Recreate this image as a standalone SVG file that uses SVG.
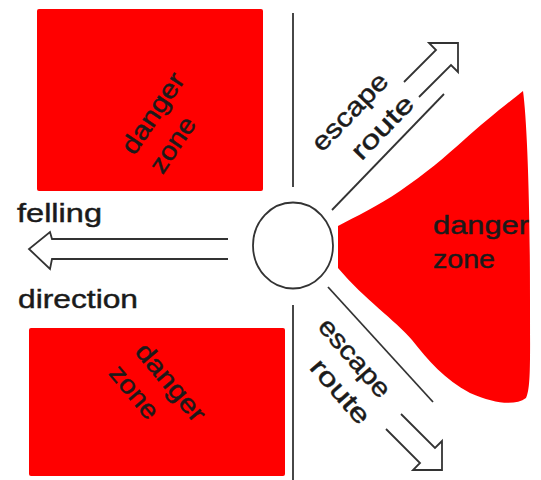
<svg xmlns="http://www.w3.org/2000/svg" width="541" height="480" viewBox="0 0 541 480">
  <style>
    .zone { fill: #ff0000; }
    .ln { fill: none; stroke: #333333; stroke-width: 1.8; stroke-linejoin: miter; stroke-linecap: butt; }
    .lbl { font-family: "Liberation Sans", Arial, sans-serif; font-size: 26px; fill: #1a1a1a; stroke: #1a1a1a; stroke-width: 0.45; }
  </style>
  <rect width="541" height="480" fill="#ffffff"/>

  <g id="danger-zone-top-left">
    <rect class="zone" x="37" y="9" width="226" height="182" rx="2"/>
    <g transform="translate(160,118) rotate(-56)">
      <text class="lbl" x="-46" y="0" textLength="92" lengthAdjust="spacingAndGlyphs">danger</text>
      <text class="lbl" x="-46" y="34" textLength="62" lengthAdjust="spacingAndGlyphs">zone</text>
    </g>
  </g>

  <g id="danger-zone-bottom-left">
    <rect class="zone" x="29" y="328" width="256" height="148" rx="2"/>
    <g transform="translate(164,388) rotate(50)">
      <text class="lbl" x="-47" y="0" textLength="94" lengthAdjust="spacingAndGlyphs">danger</text>
      <text class="lbl" x="-47" y="34" textLength="62" lengthAdjust="spacingAndGlyphs">zone</text>
    </g>
  </g>

  <g id="danger-zone-right">
    <path class="zone" d="M338,226 C355,217 378,206 400,191 C425,174 445,157 465,139 C485,121 508,103 523,91 C527,120 530,200 530,300 C530,360 531,388 526,398 C515,406 495,404 470,393 C445,380 428,360 412,340 C395,320 365,300 338,268 Z"/>
    <text class="lbl" x="433" y="234" textLength="96" lengthAdjust="spacingAndGlyphs">danger</text>
    <text class="lbl" x="433" y="268" textLength="62" lengthAdjust="spacingAndGlyphs">zone</text>
  </g>

  <g id="tree">
    <ellipse cx="293" cy="245.5" rx="40" ry="43" fill="#ffffff" stroke="#333333" stroke-width="1.8"/>
  </g>

  <g id="connectors">
    <line class="ln" x1="293" y1="13" x2="293" y2="187"/>
    <line class="ln" x1="293" y1="305" x2="293" y2="480"/>
    <line class="ln" x1="332" y1="210" x2="444" y2="94"/>
    <line class="ln" x1="328" y1="287" x2="433" y2="402"/>
    <polyline id="felling-arrow" class="ln" points="228,239 52,239 50,232 29,249 50,269 52,259 228,259"/>
    <polyline id="escape-arrow-top" class="ln" points="404,82 436,50 429,43 458,43 458,72 451,65 419,97"/>
    <polyline id="escape-arrow-bottom" class="ln" points="401,414 435,448 442,441 442,470 413,470 420,463 386,429"/>
  </g>

  <g id="felling-direction-label">
    <text class="lbl" x="17" y="222" textLength="85" lengthAdjust="spacingAndGlyphs">felling</text>
    <text class="lbl" x="18" y="308" textLength="120" lengthAdjust="spacingAndGlyphs">direction</text>
  </g>

  <g id="escape-route-top">
    <g transform="translate(351,113) rotate(-46)">
      <text class="lbl" x="-49" y="7" textLength="98" lengthAdjust="spacingAndGlyphs">escape</text>
    </g>
    <g transform="translate(383.5,128.5) rotate(-46)">
      <text class="lbl" x="-39" y="7" textLength="78" lengthAdjust="spacingAndGlyphs">route</text>
    </g>
  </g>

  <g id="escape-route-bottom">
    <g transform="translate(353.5,359) rotate(49)">
      <text class="lbl" x="-48" y="7" textLength="96" lengthAdjust="spacingAndGlyphs">escape</text>
    </g>
    <g transform="translate(339,392.5) rotate(49)">
      <text class="lbl" x="-38.5" y="7" textLength="77" lengthAdjust="spacingAndGlyphs">route</text>
    </g>
  </g>
</svg>
